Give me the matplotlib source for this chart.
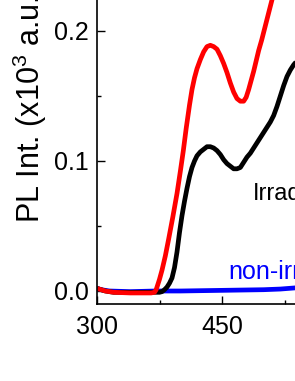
import matplotlib
matplotlib.use("Agg")
import matplotlib.pyplot as plt
from matplotlib.ticker import MultipleLocator, FormatStrFormatter

plt.rcParams['font.family'] = ['Liberation Sans', 'DejaVu Sans']
plt.rcParams['mathtext.fontset'] = 'custom'
plt.rcParams['mathtext.rm'] = 'Liberation Sans'
plt.rcParams['mathtext.it'] = 'Liberation Sans:italic'

# Data (wavelength nm, PL intensity x10^3 a.u.)
wl_irr = [300, 310, 320, 340, 360, 375, 378, 381, 384, 387, 390, 393, 396, 399, 402,
          405, 408, 411, 414, 417, 420, 424, 428, 432, 436, 440, 444, 448, 452, 456,
          460, 464, 468, 472, 476, 480, 484, 488, 492, 496, 500, 504, 508, 512, 516,
          520, 524, 528, 532, 536, 540, 545]
pl_irr = [0.002, 0.0, -0.001, -0.001, -0.001, -0.001, -0.0005, 0.001, 0.003, 0.006,
          0.010, 0.018, 0.030, 0.045, 0.058, 0.069, 0.079, 0.088, 0.095, 0.100, 0.104,
          0.107, 0.109, 0.111, 0.111, 0.110, 0.108, 0.105, 0.101, 0.098, 0.096, 0.094,
          0.094, 0.095, 0.099, 0.103, 0.106, 0.110, 0.114, 0.118, 0.122, 0.126, 0.130,
          0.135, 0.142, 0.150, 0.158, 0.165, 0.170, 0.174, 0.177, 0.181]

wl_red = [300, 310, 320, 340, 360, 365, 369, 371, 373, 375, 378, 382, 386, 391, 396,
          400, 403.6, 407, 411, 414, 417, 420, 424, 428, 432, 436, 440, 444, 448, 452,
          456, 460, 464, 468, 472, 476, 479, 482, 485, 488, 491, 494, 497.6, 502, 506,
          510, 514, 518]
pl_red = [0.002, 0.0, -0.001, -0.0015, -0.0015, -0.0015, -0.001, 0.001, 0.005, 0.009,
          0.016, 0.027, 0.040, 0.057, 0.075, 0.092, 0.108, 0.125, 0.143, 0.155, 0.164,
          0.171, 0.178, 0.184, 0.188, 0.189, 0.188, 0.186, 0.181, 0.175, 0.168, 0.160,
          0.153, 0.148, 0.146, 0.146, 0.149, 0.155, 0.162, 0.169, 0.177, 0.185, 0.193,
          0.204, 0.214, 0.224, 0.237, 0.250]

wl_non = [300, 305, 315, 340, 370, 400, 450, 500, 520, 540, 560]
pl_non = [0.002, 0.001, 0.0, -0.0005, 0.0, 0.0, 0.0005, 0.001, 0.0015, 0.0025, 0.003]

W, H = 295, 381
fig = plt.figure(figsize=(W / 100, H / 100), dpi=100)
ax = fig.add_axes([97 / W, 77 / H, 375 / W, 403 / H])

kw = dict(lw=3.4, solid_joinstyle='round', solid_capstyle='butt')
ax.plot(wl_non, pl_non, color='#0000ff', **kw)
ax.plot(wl_irr, pl_irr, color='black', **kw)
ax.plot(wl_red, pl_red, color='#ff0000', **kw)

ax.set_xlim(300, 750)
ax.set_ylim(-0.01, 0.3)
ax.xaxis.set_major_locator(MultipleLocator(150))
ax.xaxis.set_minor_locator(MultipleLocator(75))
ax.yaxis.set_major_locator(MultipleLocator(0.1))
ax.yaxis.set_minor_locator(MultipleLocator(0.05))
ax.yaxis.set_major_formatter(FormatStrFormatter('%.1f'))

for s in ['left', 'bottom', 'top', 'right']:
    ax.spines[s].set_linewidth(1.2)
ax.tick_params(which='major', direction='in', length=5.8, width=1.0, labelsize=18)
ax.tick_params(axis='y', which='major', pad=6.0)
ax.tick_params(axis='x', which='major', pad=8.0)
ax.tick_params(which='minor', direction='in', length=3, width=1.0)

ax.text(487.2, 0.07, 'Irradiated', fontsize=17, color='black', ha='left', va='baseline')
ax.text(457.6, 0.0092, 'non-irradiated', fontsize=18, color='#0000ff', ha='left', va='baseline')

fig.text(40 / W, 1 - 223 / H, 'PL Int. (x10$^3$ a.u.)', fontsize=22, rotation=90,
         rotation_mode='anchor', ha='left', va='baseline')

fig.savefig('out.png', dpi=100)
